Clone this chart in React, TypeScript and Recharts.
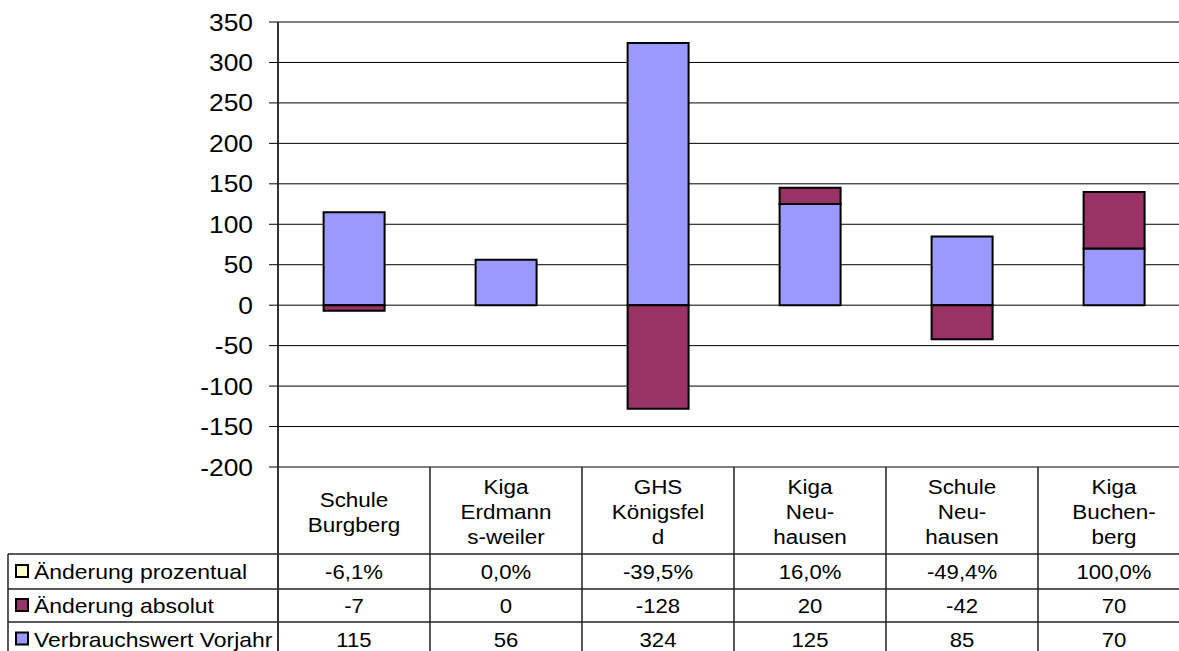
import { Bar, BarChart, CartesianGrid, XAxis, YAxis } from "recharts";

const categories = [
  ["Schule", "Burgberg"],
  ["Kiga", "Erdmann", "s-weiler"],
  ["GHS", "Königsfel", "d"],
  ["Kiga", "Neu-", "hausen"],
  ["Schule", "Neu-", "hausen"],
  ["Kiga", "Buchen-", "berg"],
];
const changePercent = ["-6,1%", "0,0%", "-39,5%", "16,0%", "-49,4%", "100,0%"];
const changeAbsolute = [-7, 0, -128, 20, -42, 70];
const previousYear = [115, 56, 324, 125, 85, 70];
const yTicks = [-200, -150, -100, -50, 0, 50, 100, 150, 200, 250, 300, 350];

const seriesRows = [
  { label: "Änderung prozentual", color: "#FFFFCC", values: changePercent },
  { label: "Änderung absolut", color: "#993366", values: changeAbsolute.map(String) },
  { label: "Verbrauchswert Vorjahr", color: "#9999FF", values: previousYear.map(String) },
];

const data = categories.map((lines, i) => ({
  name: lines.join(" "),
  previous: previousYear[i],
  absolute: changeAbsolute[i],
}));

// layout
const W = 1200;
const H = 651;
const TOP = 22;
const LEFT_AXIS = 278;
const RIGHT = 10;
const BOTTOM = 184;
const PLOT_BOTTOM = H - BOTTOM; // 467
const BAND = (W - RIGHT - LEFT_AXIS) / categories.length;
const HEADER_BOTTOM = 554;
const ROW_LINES = [554, 589, 622, 656];
const TABLE_LEFT = 8;
const FONT = '"Liberation Sans", Arial, sans-serif';

// the source picture is a bit stretched sideways, so text gets a horizontal scale
function WideText({ x, y, size, sx, anchor, children }: any) {
  return (
    <g transform={`translate(${x},${y}) scale(${sx},1)`}>
      <text x={0} y={0} fontSize={size} textAnchor={anchor} fontFamily={FONT} fill="#000">
        {children}
      </text>
    </g>
  );
}

function YTick(props: any) {
  const { x, y, payload } = props;
  return (
    <WideText x={x} y={y + 8.5} size={24} sx={1.1} anchor="end">
      {payload.value}
    </WideText>
  );
}

function TableColumn(props: any) {
  const { x, payload } = props;
  const i = payload.index;
  const lines = categories[i];
  const left = x - BAND / 2;
  const right = x + BAND / 2;
  const headerMid = (PLOT_BOTTOM + HEADER_BOTTOM) / 2 + 1;
  const lineStep = 25;
  const firstY = headerMid - ((lines.length - 1) * lineStep) / 2;

  return (
    <g>
      {i === 0 && (
        <g>
          {ROW_LINES.map((ly) => (
            <line key={ly} x1={TABLE_LEFT} x2={W} y1={ly} y2={ly} stroke="#222" strokeWidth={1.5} />
          ))}
          <line x1={TABLE_LEFT} x2={TABLE_LEFT} y1={HEADER_BOTTOM} y2={H} stroke="#222" strokeWidth={1.5} />
          <line x1={left} x2={left} y1={PLOT_BOTTOM} y2={H} stroke="#333" strokeWidth={2} />
          {seriesRows.map((row, r) => {
            const cy = (ROW_LINES[r] + ROW_LINES[r + 1]) / 2;
            return (
              <g key={row.label}>
                <rect x={16} y={cy - 6.5} width={12} height={12} fill={row.color} stroke="#000" strokeWidth={2} />
                <WideText x={34} y={cy + 7.5} size={20.5} sx={1.12} anchor="start">
                  {row.label}
                </WideText>
              </g>
            );
          })}
        </g>
      )}
      <line x1={right} x2={right} y1={PLOT_BOTTOM} y2={H} stroke="#222" strokeWidth={1.5} />
      {lines.map((t, k) => (
        <WideText key={k} x={x} y={firstY + k * lineStep + 7.5} size={21} sx={1.07} anchor="middle">
          {t}
        </WideText>
      ))}
      {seriesRows.map((row, r) => {
        const cy = (ROW_LINES[r] + ROW_LINES[r + 1]) / 2;
        return (
          <WideText key={row.label} x={x} y={cy + 7.5} size={20.5} sx={1.08} anchor="middle">
            {row.values[i]}
          </WideText>
        );
      })}
    </g>
  );
}

export default function App() {
  return (
    <div
      style={{
        position: "absolute",
        left: 0,
        top: 0,
        width: 1179,
        height: 651,
        overflow: "hidden",
        background: "#fff",
      }}
    >
      <BarChart
        width={W}
        height={H}
        data={data}
        stackOffset="sign"
        barCategoryGap="30%"
        margin={{ top: TOP, right: RIGHT, bottom: 0, left: 0 }}
      >
        <CartesianGrid vertical={false} stroke="#000" strokeWidth={1} />
        <XAxis
          dataKey="name"
          height={BOTTOM}
          axisLine={false}
          tickLine={false}
          interval={0}
          tick={<TableColumn />}
        />
        <YAxis
          width={LEFT_AXIS}
          domain={[-200, 350]}
          ticks={yTicks}
          interval={0}
          allowDataOverflow
          axisLine={{ stroke: "#333", strokeWidth: 2 }}
          tickLine={{ stroke: "#000" }}
          tickSize={9}
          tickMargin={16}
          tick={<YTick />}
        />
        <Bar
          dataKey="previous"
          stackId="s"
          fill="#9999FF"
          stroke="#000"
          strokeWidth={2}
          isAnimationActive={false}
        />
        <Bar
          dataKey="absolute"
          stackId="s"
          fill="#993366"
          stroke="#000"
          strokeWidth={2}
          isAnimationActive={false}
        />
      </BarChart>
    </div>
  );
}
